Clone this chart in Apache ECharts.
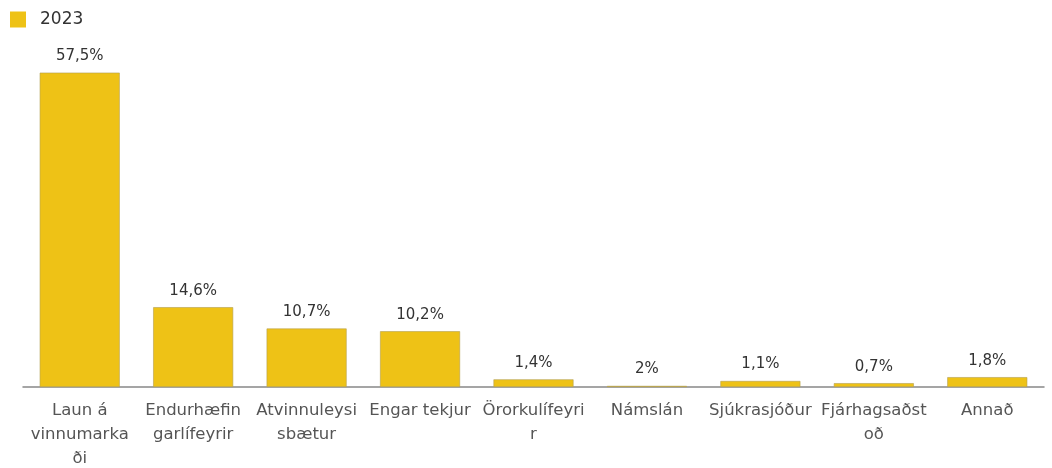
<!DOCTYPE html>
<html>
<head>
<meta charset="utf-8">
<script src="https://cdn.jsdelivr.net/npm/echarts@6/dist/echarts.min.js"></script>
<style>html,body{margin:0;padding:0;background:#fff}#c{width:1052px;height:468px}</style>
</head>
<body>
<div id="c"></div>
<script>
const categories = ["Laun á vinnumarkaði", "Endurhæfingarlífeyrir", "Atvinnuleysisbætur", "Engar tekjur", "Örorkulífeyrir", "Námslán", "Sjúkrasjóður", "Fjárhagsaðstoð", "Annað"];
const categoryLines = ["Laun á\nvinnumarka\nði", "Endurhæfin\ngarlífeyrir", "Atvinnuleysi\nsbætur", "Engar tekjur", "Örorkulífeyri\nr", "Námslán", "Sjúkrasjóður", "Fjárhagsaðst\noð", "Annað"];
const values2023 = [57.5, 14.6, 10.7, 10.2, 1.4, 0.2, 1.1, 0.7, 1.8];
const valueLabels = ["57,5%", "14,6%", "10,7%", "10,2%", "1,4%", "2%", "1,1%", "0,7%", "1,8%"];
const seriesName = "2023";

const chart = echarts.init(document.getElementById('c'), null, {renderer: 'canvas'});
chart.setOption({
  animation: false,
  textStyle: {fontFamily: 'DejaVu Sans'},
  legend: {
    left: 10, top: 11, padding: 0, itemWidth: 16, itemHeight: 16, itemGap: 10,
    icon: 'rect',
    itemStyle: {borderWidth: 0},
    textStyle: {fontSize: 17, color: '#333', padding: [0, 0, 0, 9]},
    data: [seriesName]
  },
  grid: {left: 23, right: 8, top: 59, bottom: 81, containLabel: false, outerBoundsMode: 'none'},
  xAxis: {
    type: 'category',
    data: categories,
    axisTick: {show: false},
    axisLine: {lineStyle: {color: '#888', width: 1.5}},
    axisLabel: {
      interval: 0, fontSize: 16.5, color: '#555', lineHeight: 24, margin: 12,
      formatter: (v, i) => categoryLines[i]
    }
  },
  yAxis: {type: 'value', min: 0, max: 60, show: false, splitLine: {show: false}},
  series: [{
    name: seriesName,
    type: 'bar',
    data: values2023,
    barWidth: 80,
    itemStyle: {color: '#EEC216', borderColor: '#B3A050', borderWidth: 0.6},
    label: {
      show: true, position: 'top', distance: 9, fontSize: 15, color: '#333',
      formatter: p => valueLabels[p.dataIndex]
    }
  }]
});
</script>
</body>
</html>
